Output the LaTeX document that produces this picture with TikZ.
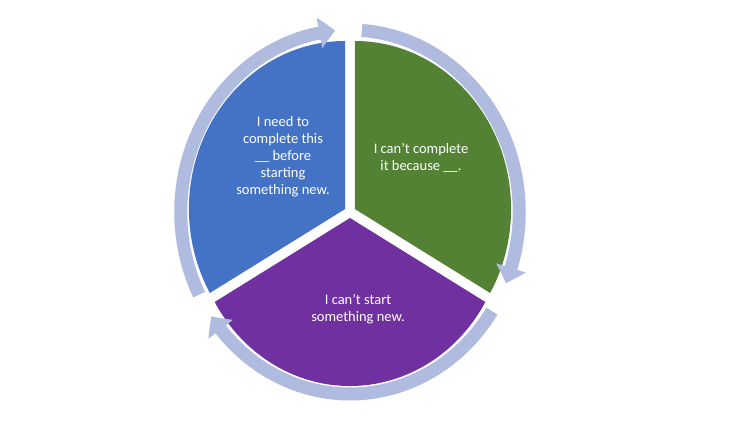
\documentclass[tikz,border=0pt]{standalone}
\usepackage{fontspec}
\setmainfont{Carlito}
\usetikzlibrary{arrows.meta,bending,calc}
\definecolor{cb}{HTML}{4472C4}
\definecolor{cg}{HTML}{548235}
\definecolor{cp}{HTML}{7030A0}
\definecolor{ring}{HTML}{AFBCE0}
\begin{document}
\begin{tikzpicture}[x=1pt,y=1pt,
  ringarc/.style={draw=ring,line width=13pt,-{Triangle[length=16pt,width=30pt,bend]}},
  lbl/.style={text=white,font=\fontsize{14.5pt}{17pt}\selectfont,align=center}]
\useasboundingbox (0,0) rectangle (750,422);
\begin{scope}[shift={(350,210)},xscale=0.93]
\coordinate (c) at (0,0);
\fill[cb] ($(c)+(150:6)$) coordinate (cb0) -- ++(90:168) arc[start angle=90,end angle=210,radius=168] -- cycle;
\fill[cg] ($(c)+(30:6)$) coordinate (cg0) -- ++(90:168) arc[start angle=90,end angle=-30,radius=168] -- cycle;
\fill[cp] ($(c)+(270:6)$) coordinate (cp0) -- ++(-30:168) arc[start angle=-30,end angle=-150,radius=168] -- cycle;
\draw[ringarc] ($(c)+(207:182)$) arc[start angle=207,end angle=95,radius=182];
\draw[ringarc] ($(c)+(86:182)$) arc[start angle=86,end angle=-23,radius=182];
\draw[ringarc] ($(c)+(-33:182)$) arc[start angle=-33,end angle=-145,radius=182];
\end{scope}
\node[lbl] (t1) at (283,265) {I need to\\complete this\\\_\_ before\\starting\\something new.};
\node[lbl] (t2) at (421,264) {I can’t complete\\it because \_\_.};
\node[lbl] (t3) at (358,113) {I can’t start\\something new.};
\end{tikzpicture}
\end{document}
